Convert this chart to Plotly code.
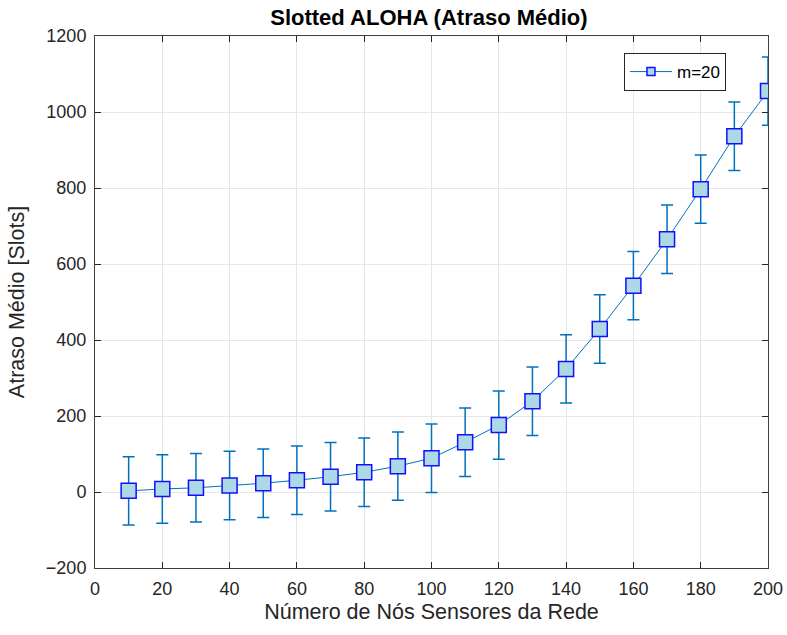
import plotly.graph_objects as go

nodes = [10, 20, 30, 40, 50, 60, 70, 80, 90, 100, 110, 120, 130, 140, 150, 160, 170, 180, 190, 200]
delay = [3, 8, 11, 17, 23, 31, 40, 52, 68, 89, 131, 176, 239, 324, 429, 543, 665, 797, 936, 1055]
err = [90] * 20
x_ticks = list(range(0, 201, 20))
y_ticks = list(range(-200, 1201, 200))

FONT = "Liberation Sans, Arial"
LINE_C = "#0072BD"
FILL_C = "#ADD8E6"
EDGE_C = "#1010FF"

fig = go.Figure()
fig.add_trace(go.Scatter(
    x=nodes, y=delay, mode="lines+markers", name="m=20", showlegend=False,
    line=dict(color=LINE_C, width=1),
    marker=dict(symbol="square", size=15, color=FILL_C, line=dict(color=EDGE_C, width=1.5)),
    error_y=dict(type="data", array=err, visible=True, color=LINE_C, thickness=1.5, width=6),
))
# legend entry (smaller marker, as in the reference legend)
fig.add_trace(go.Scatter(
    x=[None], y=[None], mode="lines+markers", name="m=20", showlegend=True,
    line=dict(color=LINE_C, width=1),
    marker=dict(symbol="square", size=8, color=FILL_C, line=dict(color=EDGE_C, width=1.5)),
))

axis_common = dict(
    showline=True, linecolor="#404040", linewidth=1, mirror="ticks",
    ticks="inside", ticklen=6, tickcolor="#262626",
    showgrid=True, gridcolor="#E6E6E6", gridwidth=1, zeroline=False,
    tickfont=dict(family=FONT, size=18, color="#262626"),
    automargin=False,
)
fig.update_xaxes(range=[0, 200], tickvals=x_ticks, ticklabelstandoff=4,
                 title=dict(text="Número de Nós Sensores da Rede", standoff=6,
                            font=dict(family=FONT, size=21.5, color="#262626")),
                 **axis_common)
fig.update_yaxes(range=[-200, 1200], tickvals=y_ticks, ticklabelstandoff=4,
                 title=dict(text="Atraso Médio [Slots]", font=dict(family=FONT, size=21.5, color="#262626")),
                 **axis_common)
fig.update_layout(
    width=787, height=635,
    margin=dict(l=95, r=19, t=36, b=67),
    paper_bgcolor="white", plot_bgcolor="white",
    title=dict(text="<b>Slotted ALOHA (Atraso Médio)</b>", x=0.545, xanchor="center", y=0.973, yanchor="middle",
               font=dict(family=FONT, size=22, color="black")),
    showlegend=True,
    legend=dict(x=0.786, y=0.968, xanchor="left", yanchor="top", bordercolor="#262626", borderwidth=1,
                bgcolor="white", itemwidth=42, font=dict(family=FONT, size=17, color="black")),
)
fig.write_html("out.html")
